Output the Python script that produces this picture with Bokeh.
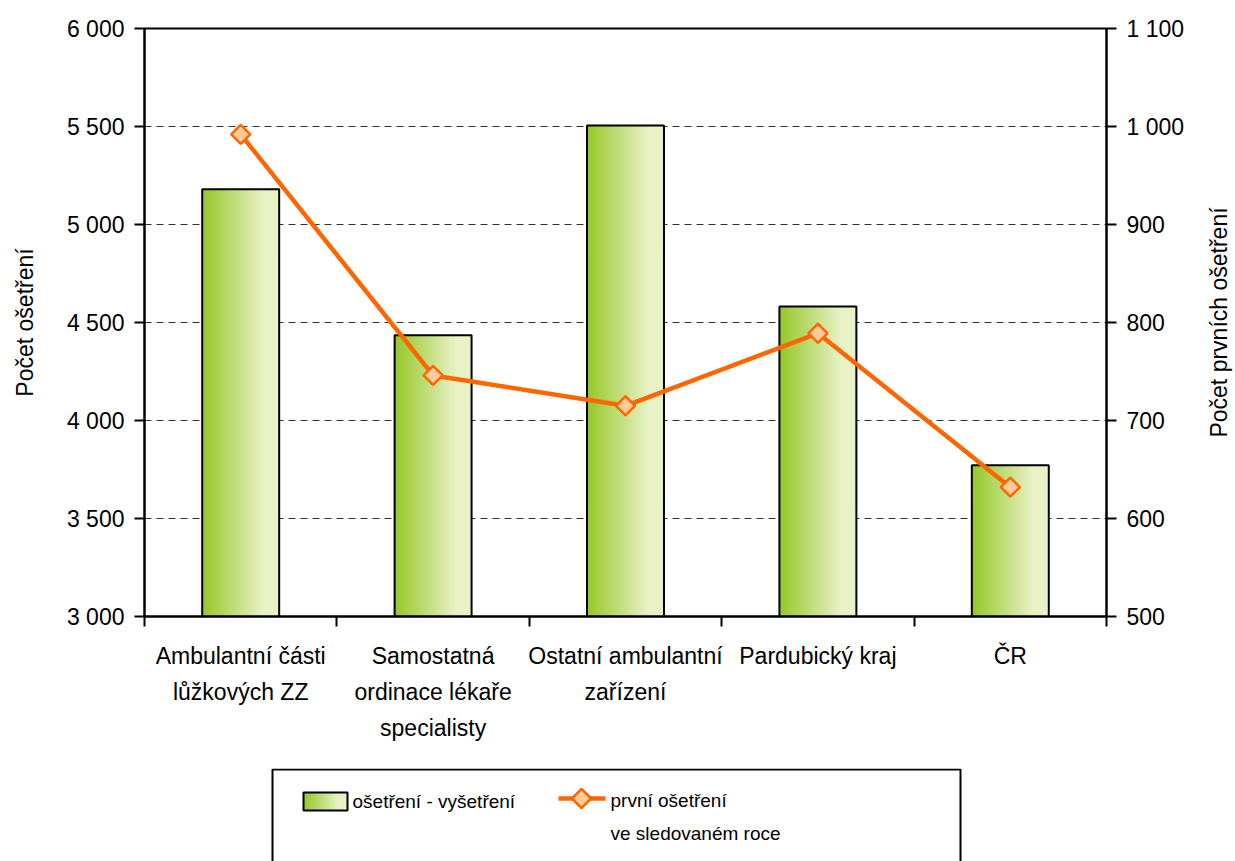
import numpy as np
from bokeh.plotting import figure
from bokeh.models import Range1d, LinearAxis, FixedTicker
from bokeh.layouts import column, row
from bokeh.core.properties import value
from bokeh.embed import file_html
from bokeh.resources import INLINE

# ---- data ----
categories = ["Ambulantní části\nlůžkových ZZ",
              "Samostatná\nordinace lékaře\nspecialisty",
              "Ostatní ambulantní\nzařízení",
              "Pardubický kraj",
              "ČR"]
treatments = [5180, 4435, 5505, 4582, 3772]      # ošetření - vyšetření (left axis)
first_treat = [992, 746, 715, 789, 632]          # první ošetření (right axis)
left_ticks = [3000, 3500, 4000, 4500, 5000, 5500, 6000]
right_ticks = [500, 600, 700, 800, 900, 1000, 1100]
series_names = ["ošetření - vyšetření", "první ošetření\nve sledovaném roce"]
left_title = "Počet ošetření"
right_title = "Počet prvních ošetření"

FONT = "Liberation Sans"
FS = "23px"
LFS = "19px"
GREEN = np.array([150, 200, 40])
PALE = np.array([232, 242, 198])
ORANGE = "#FF6600"
PEACH = "#FFCC99"

def grad_color(t):
    f = min(1.0, t / 0.8)
    c = (GREEN * (1 - f) + PALE * f).astype(int)
    return "#%02x%02x%02x" % tuple(c)

def fmt(v):
    return "{:,}".format(v).replace(",", " ")

n = len(categories)
xc = np.arange(n) + 0.5

BL = 144
TOP, BOT = 28, 144

p = figure(frame_width=962, frame_height=588, output_backend="svg", toolbar_location=None,
           x_range=Range1d(0, n), y_range=Range1d(left_ticks[0], left_ticks[-1]),
           min_border_left=BL, min_border_right=89, min_border_top=TOP, min_border_bottom=BOT,
           background_fill_color="white", border_fill_color="white")
p.extra_y_ranges = {"right": Range1d(right_ticks[0], right_ticks[-1])}
p.outline_line_color = "black"
p.outline_line_width = 2

# gradient bars: strips painted left to right, each reaching the bar's right edge
BW = 0.4
N = 60
for k in range(N):
    t = k / N
    left = xc - BW / 2 + t * BW
    right = xc + BW / 2
    p.vbar(x=(left + right) / 2, width=(1 - t) * BW, bottom=left_ticks[0], top=treatments,
           fill_color=grad_color(t + 0.5 / N), line_color=None)
p.vbar(x=xc, width=BW, bottom=left_ticks[0], top=treatments, fill_color=None,
       line_color="black", line_width=2)

# line on right axis
p.line(x=xc, y=first_treat, y_range_name="right", line_color=ORANGE, line_width=4.5)
p.scatter(x=xc, y=first_treat, y_range_name="right", marker="square", angle=np.pi / 4, size=13.5,
          fill_color=PEACH, line_color=ORANGE, line_width=2.5)

# axes
xa = p.xaxis[0]
xa.ticker = FixedTicker(ticks=list(xc), minor_ticks=list(range(n + 1)))
xa.major_label_overrides = {float(x): c for x, c in zip(xc, categories)}
xa.major_tick_out = 0
xa.major_tick_in = 0
xa.minor_tick_out = 10
xa.minor_tick_in = 0
xa.minor_tick_line_color = "black"
xa.minor_tick_line_width = 2
xa.major_label_standoff = 16
xa.major_label_text_line_height = 1.4

ya = p.yaxis[0]
ya.ticker = FixedTicker(ticks=left_ticks)
ya.major_label_overrides = {t: fmt(t) for t in left_ticks}
ya.axis_label = left_title
ya.major_label_standoff = 10
ya.axis_label_standoff = 26

ra = LinearAxis(y_range_name="right", ticker=FixedTicker(ticks=right_ticks))
ra.major_label_overrides = {t: fmt(t) for t in right_ticks}
ra.major_label_standoff = 10
p.add_layout(ra, "right")

for ax in [xa, ya, ra]:
    ax.axis_line_color = "black"
    ax.axis_line_width = 2
    ax.major_tick_line_color = "black"
    ax.major_tick_line_width = 2
    ax.major_label_text_font = FONT
    ax.major_label_text_font_size = FS
    ax.major_label_text_color = "black"
    ax.axis_label_text_font = FONT
    ax.axis_label_text_font_size = FS
    ax.axis_label_text_font_style = "normal"
    ax.axis_label_text_color = "black"
for ax in [ya, ra]:
    ax.major_tick_out = 10
    ax.major_tick_in = 0
    ax.minor_tick_line_color = None

p.xgrid.grid_line_color = None
p.ygrid.ticker = FixedTicker(ticks=left_ticks)
p.ygrid.grid_line_color = "#333333"
p.ygrid.grid_line_dash = "7 5"
p.ygrid.grid_line_width = 1

# ---- narrow side panel holding the right axis title (reads bottom-to-top) ----
S = figure(frame_width=40, frame_height=588, output_backend="svg", toolbar_location=None,
           x_range=Range1d(0, 40), y_range=Range1d(right_ticks[0], right_ticks[-1]),
           min_border_left=0, min_border_right=0, min_border_top=TOP, min_border_bottom=BOT,
           border_fill_color="white", background_fill_color="white")
S.axis.visible = False
S.grid.visible = False
S.outline_line_color = None
S.text(x=[23], y=[(right_ticks[0] + right_ticks[-1]) / 2], text=[right_title], angle=np.pi / 2,
       text_font=value(FONT), text_font_size=value(FS), text_align="center",
       text_baseline="middle", text_color="black")

# ---- legend as a separate figure, same left border so the frames line up ----
# data units are pixels measured from the main frame's left edge
L = figure(frame_width=962, frame_height=93, output_backend="svg", toolbar_location=None,
           x_range=Range1d(0, 962), y_range=Range1d(0, 93),
           min_border_left=BL, min_border_right=129, min_border_top=8, min_border_bottom=0,
           border_fill_color="white", background_fill_color="white")
L.axis.visible = False
L.grid.visible = False
L.outline_line_color = None
# legend box (its bottom edge is cut off by the page edge, as in the reference)
L.line(x=[128, 128, 816, 816], y=[-5, 92, 92, -5], line_color="black", line_width=2)

SW0, SW1 = 159, 203
for k in range(N):
    t = k / N
    lft = SW0 + t * (SW1 - SW0)
    L.vbar(x=[(lft + SW1) / 2], width=SW1 - lft, bottom=51, top=69,
           fill_color=grad_color(t + 0.5 / N), line_color=None)
L.vbar(x=[(SW0 + SW1) / 2], width=SW1 - SW0, bottom=51, top=69, fill_color=None,
       line_color="black", line_width=2)
L.text(x=[208], y=[60], text=[series_names[0]], text_font=value(FONT), text_font_size=value(LFS),
       text_baseline="middle", text_align="left", text_color="black")
L.line(x=[414, 461], y=[63, 63], line_color=ORANGE, line_width=4.5)
L.scatter(x=[437], y=[63], marker="square", angle=np.pi / 4, size=13.5,
          fill_color=PEACH, line_color=ORANGE, line_width=2.5)
lines2 = series_names[1].split("\n")
L.text(x=[466] * len(lines2), y=[61, 28], text=lines2, text_font=value(FONT),
       text_font_size=value(LFS), text_baseline="middle", text_align="left", text_color="black")

layout = column(row(p, S, spacing=0), L, spacing=0)
open("out.html", "w").write(file_html(layout, INLINE))
